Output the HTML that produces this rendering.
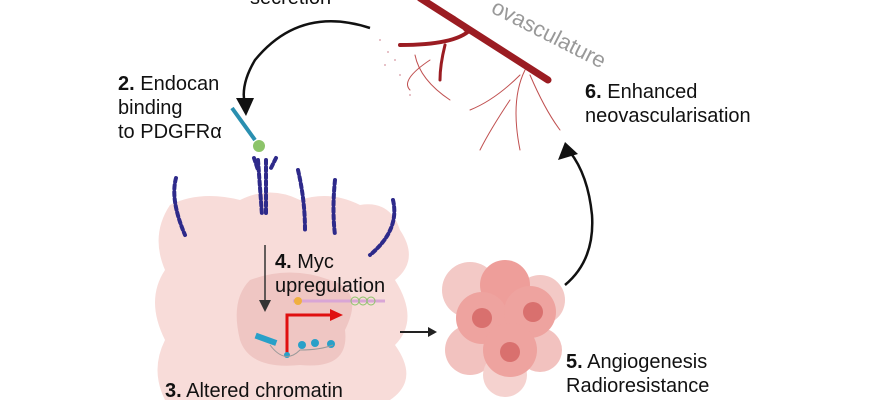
<!DOCTYPE html>
<html><head><style>
body{margin:0;background:#fff;}
svg{display:block;font-family:"Liberation Sans",sans-serif;}
</style></head><body>
<svg width="870" height="400" viewBox="0 0 870 400" xmlns="http://www.w3.org/2000/svg">
<path d="M170 205 Q200 190 240 200 Q270 185 300 200 Q330 190 360 205 Q390 200 400 230 Q420 260 395 280 Q420 320 395 345 Q420 380 390 400 L165 400 Q150 370 165 340 Q145 300 165 270 Q150 235 170 205Z" fill="#f8dcd9"/>
<path d="M250 280 Q290 265 330 280 Q365 290 345 330 Q350 370 300 365 Q250 370 240 340 Q230 300 250 280Z" fill="#efc6c3"/>
<g stroke="#2e2a8a" stroke-width="4" fill="none" stroke-linecap="round" stroke-dasharray="4 3">
<path d="M176 178 Q170 200 185 235"/>
<path d="M258 160 L262 215"/><path d="M266 160 L266 215"/>
<path d="M254 158 L258 170"/><path d="M276 158 L270 170"/>
<path d="M298 170 Q305 200 305 230"/>
<path d="M335 180 Q332 210 335 235"/>
<path d="M393 200 Q400 230 370 255"/>
</g>
<path d="M232 108 L255 140" stroke="#2a8fb0" stroke-width="4"/>
<circle cx="259" cy="146" r="6" fill="#8cc46a"/>
<line x1="265" y1="245" x2="265" y2="305" stroke="#333" stroke-width="1.5"/>
<path d="M259 300 L265 312 L271 300Z" fill="#333"/>
<line x1="293" y1="301" x2="385" y2="301" stroke="#d9a6d6" stroke-width="3"/>
<circle cx="298" cy="301" r="4" fill="#f0b040"/>
<circle cx="355" cy="301" r="4" fill="none" stroke="#8cc46a"/><circle cx="363" cy="301" r="4" fill="none" stroke="#8cc46a"/><circle cx="371" cy="301" r="4" fill="none" stroke="#8cc46a"/>
<path d="M287 355 L287 315 L335 315" stroke="#e01010" stroke-width="3" fill="none"/>
<path d="M330 309 L343 315 L330 321Z" fill="#e01010"/>
<g fill="#29a0c8"><rect x="255" y="336" width="22" height="6" transform="rotate(20 265 339)"/><circle cx="302" cy="345" r="4"/><circle cx="315" cy="343" r="4"/><circle cx="331" cy="344" r="4"/><circle cx="287" cy="355" r="3"/></g>
<path d="M270 345 Q285 365 300 350 Q320 350 333 345" stroke="#999" fill="none"/>
<line x1="400" y1="332" x2="432" y2="332" stroke="#222" stroke-width="2"/>
<path d="M428 327 L437 332 L428 337Z" fill="#222"/>
<g>
<circle cx="470" cy="290" r="28" fill="#f3c9c6"/><circle cx="540" cy="300" r="25" fill="#f3c9c6"/><circle cx="470" cy="350" r="25" fill="#f2c2bf"/><circle cx="540" cy="350" r="22" fill="#f2c2bf"/><circle cx="505" cy="375" r="22" fill="#f5d2cf"/>
<circle cx="505" cy="285" r="25" fill="#ee9e9a"/><circle cx="482" cy="318" r="26" fill="#eea39f"/><circle cx="530" cy="312" r="26" fill="#eea39f"/><circle cx="510" cy="350" r="27" fill="#eea39f"/>
<circle cx="482" cy="318" r="10" fill="#d9706e"/><circle cx="533" cy="312" r="10" fill="#d9706e"/><circle cx="510" cy="352" r="10" fill="#d9706e"/>
</g>
<path d="M370 28 Q300 5 255 60 Q240 85 245 105" stroke="#111" stroke-width="2.5" fill="none"/>
<path d="M236 98 L246 116 L254 98Z" fill="#111"/>
<path d="M565 285 Q595 260 592 215 Q588 175 570 152" stroke="#111" stroke-width="2.5" fill="none"/>
<path d="M558 160 L565 142 L578 154Z" fill="#111"/>
<g stroke="#9b1c22" fill="none" stroke-linecap="round">
<path d="M420 -2 L548 80" stroke-width="7"/>
<path d="M470 30 Q455 45 400 45" stroke-width="4"/>
<path d="M445 45 Q440 65 440 80" stroke-width="3"/>
<path d="M465 30 Q460 20 450 15" stroke-width="3"/>
<g stroke="#c05050" stroke-width="1"><path d="M525 70 Q510 100 520 150"/><path d="M520 75 Q495 100 470 110"/><path d="M530 75 Q545 110 560 130"/><path d="M510 100 Q490 130 480 150"/><path d="M415 55 Q420 80 450 100"/><path d="M430 60 Q400 80 410 90"/></g>
</g>
<g fill="#c06070" opacity="0.5"><circle cx="380" cy="40" r="1"/><circle cx="388" cy="52" r="1"/><circle cx="395" cy="60" r="1"/><circle cx="400" cy="75" r="1"/><circle cx="385" cy="65" r="1"/><circle cx="410" cy="95" r="1"/></g>
<text transform="translate(490,12) rotate(27)" font-size="22" fill="#999">ovasculature</text>
<g font-size="20" fill="#111">
<text x="250" y="4">secretion</text>
<text x="118" y="90"><tspan font-weight="bold">2.</tspan> Endocan</text>
<text x="118" y="114">binding</text>
<text x="118" y="138">to PDGFRα</text>
<text x="585" y="98"><tspan font-weight="bold">6.</tspan> Enhanced</text>
<text x="585" y="122">neovascularisation</text>
<text x="275" y="268"><tspan font-weight="bold">4.</tspan> Myc</text>
<text x="275" y="292">upregulation</text>
<text x="165" y="397"><tspan font-weight="bold">3.</tspan> Altered chromatin</text>
<text x="566" y="368"><tspan font-weight="bold">5.</tspan> Angiogenesis</text>
<text x="566" y="392">Radioresistance</text>
</g>
</svg>
</body></html>
